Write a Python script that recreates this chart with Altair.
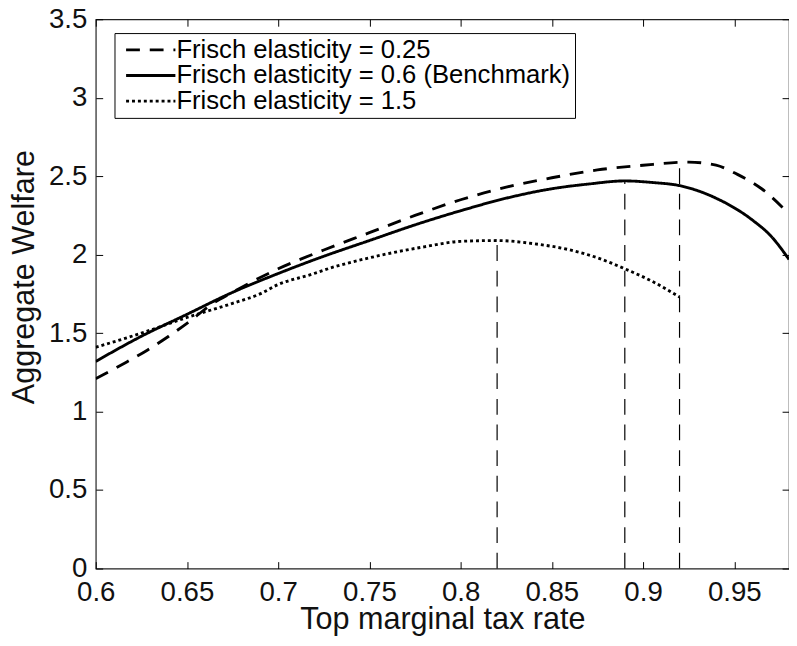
import altair as alt
import pandas as pd

# ---- data ----
series_labels = [
    "Frisch elasticity = 0.25",
    "Frisch elasticity = 0.6 (Benchmark)",
    "Frisch elasticity = 1.5",
]

x_low = [0.6, 0.616, 0.628, 0.64, 0.652, 0.663, 0.675, 0.686, 0.70, 0.725, 0.75,
         0.775, 0.80, 0.825, 0.85, 0.875, 0.90, 0.925, 0.94, 0.952, 0.965, 0.98]
y_low = [1.21, 1.31, 1.39, 1.48, 1.58, 1.68, 1.76, 1.83, 1.91, 2.03, 2.14,
         2.25, 2.35, 2.43, 2.49, 2.54, 2.57, 2.59, 2.57, 2.51, 2.42, 2.26]

x_bench = [0.6, 0.625, 0.65, 0.675, 0.70, 0.725, 0.75, 0.775, 0.80, 0.825, 0.85,
           0.87, 0.89, 0.905, 0.92, 0.94, 0.96, 0.97, 0.98]
y_bench = [1.32, 1.48, 1.62, 1.76, 1.88, 1.99, 2.09, 2.19, 2.28, 2.36, 2.42,
           2.45, 2.47, 2.46, 2.44, 2.36, 2.22, 2.12, 1.97]

x_high = [0.6, 0.625, 0.65, 0.675, 0.69, 0.70, 0.717, 0.73, 0.75, 0.78, 0.80,
          0.82, 0.84, 0.86, 0.875, 0.89, 0.905, 0.92]
y_high = [1.41, 1.50, 1.60, 1.69, 1.75, 1.81, 1.87, 1.92, 1.98, 2.05, 2.085,
          2.09, 2.07, 2.03, 1.98, 1.91, 1.83, 1.73]

# optimal rates (vertical dashed markers) and their peak welfare
opt_x = [0.82, 0.89, 0.92]
opt_y = [2.09, 2.47, 2.59]

x_ticks = [0.6, 0.65, 0.7, 0.75, 0.8, 0.85, 0.9, 0.95]
y_ticks = [0, 0.5, 1, 1.5, 2, 2.5, 3, 3.5]

rows = []
for lab, xs, ys in zip(series_labels, [x_low, x_bench, x_high], [y_low, y_bench, y_high]):
    for i, (a, b) in enumerate(zip(xs, ys)):
        rows.append({"series": lab, "x": a, "y": b, "order": i})
lines_df = pd.DataFrame(rows)
opt_df = pd.DataFrame({"x": opt_x, "y0": [0] * len(opt_x), "y1": opt_y})

W, H = 703, 557
FONT = "Liberation Sans"

xscale = alt.Scale(domain=[0.6, 0.98], nice=False, zero=False)
yscale = alt.Scale(domain=[0, 3.5], nice=False)

xaxis = alt.Axis(
    values=x_ticks, format="~g", title="Top marginal tax rate",
    labelFontSize=28, titleFontSize=31, labelPadding=10, labelFlush=False,
    titleY=37, titleBaseline="top",
    grid=True, gridDash=[7, H - 14, 7, 3000], gridColor="#000", gridOpacity=1, gridWidth=1,
)
yaxis = alt.Axis(
    values=y_ticks, format="~g", title="Aggregate Welfare",
    labelFontSize=28, titleFontSize=31, labelPadding=9, labelFlush=False,
    titleX=-63, titleY=261, titleBaseline="alphabetic", titleAngle=270,
    grid=True, gridDash=[7, W - 14, 7, 3000], gridColor="#000", gridOpacity=1, gridWidth=1,
)

lines = alt.Chart(lines_df).mark_line(
    color="black", strokeWidth=2.9, clip=True, strokeCap="butt", interpolate="monotone"
).encode(
    x=alt.X("x:Q", scale=xscale, axis=xaxis),
    y=alt.Y("y:Q", scale=yscale, axis=yaxis),
    strokeDash=alt.StrokeDash(
        "series:N",
        scale=alt.Scale(domain=series_labels, range=[[14, 10], [1, 0], [3, 3]]),
        legend=alt.Legend(
            title=None, orient="none", legendX=19, legendY=14,
            symbolType="M-4,0H4", symbolSize=156.25, symbolStrokeWidth=2.9,
            symbolOffset=19.75,
            symbolStrokeColor="black", labelFontSize=26, labelFont=FONT,
            labelColor="black", labelOffset=13, rowPadding=0, padding=4,
            strokeColor="black", fillColor="white", labelLimit=600,
        ),
    ),
    order="order:Q",
)

rules = alt.Chart(opt_df).mark_rule(color="black", strokeWidth=1.2, strokeDash=[16, 10]).encode(
    x=alt.X("x:Q", scale=xscale),
    y=alt.Y("y0:Q", scale=yscale),
    y2="y1:Q",
)

chart = alt.layer(rules, lines).properties(
    width=W, height=H,
    autosize=alt.AutoSizeParams(type="none"),
    padding={"left": 89, "top": 7, "right": 0, "bottom": 66},
).configure_view(
    stroke="#222", strokeWidth=1.2
).configure_axis(
    ticks=False, tickSize=0, domain=False,
    labelFont=FONT, titleFont=FONT, labelColor="#111", titleColor="#111",
    titleFontWeight="normal",
)

chart.save("out.html", embed_options={"renderer": "svg", "actions": False})
